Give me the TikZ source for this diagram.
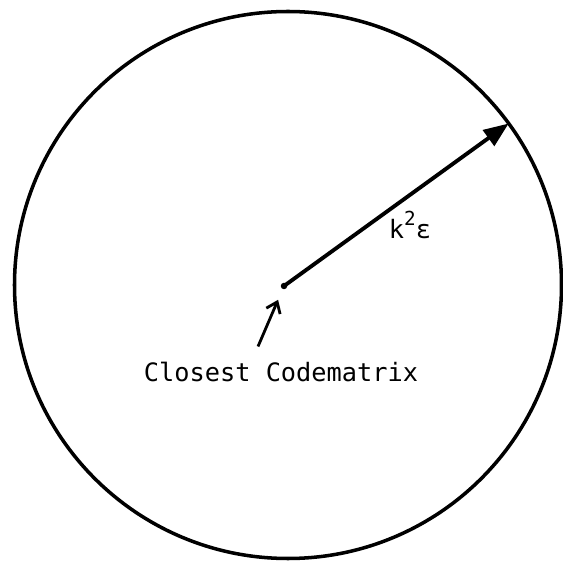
\documentclass[tikz,border=0pt]{standalone}
\usepackage{fontspec}
\setmonofont{DejaVu Sans Mono}
\usetikzlibrary{arrows.meta, positioning, calc}

\begin{document}
\begin{tikzpicture}[
    >=Stealth,
    lbl/.style={font=\ttfamily\fontsize{14.4}{16}\selectfont, inner sep=0pt},
    rim/.style={draw, line width=2pt}
  ]
  \useasboundingbox (0,0) rectangle (11.26,11.28);

  % sphere round the closest codematrix
  \coordinate (centre) at (5.76,5.58);
  \draw[rim] (centre) circle (5.47);
  \coordinate (edge) at ($(centre)+(36.2:5.47)$);

  \node[circle, fill, inner sep=0pt, minimum size=0.13cm] (cm) at (5.68,5.56) {};
  \draw[-{Triangle[length=0.5cm, width=0.38cm]}, line width=2.2pt]
    (cm.center) -- (edge);
  \node[lbl] (radius) at (8.2,6.78)
    {k\raisebox{7.5pt}{\fontsize{11}{12}\selectfont 2}ε};

  \node[lbl] (name) at (5.62,3.84) {Closest Codematrix};
  \coordinate (tail) at (5.16,4.35);
  \draw[-{Straight Barb[length=0.2cm, width=0.3cm]}, line width=1.6pt,
        shorten >=0.3cm] (tail) -- (cm.center);
\end{tikzpicture}
\end{document}
